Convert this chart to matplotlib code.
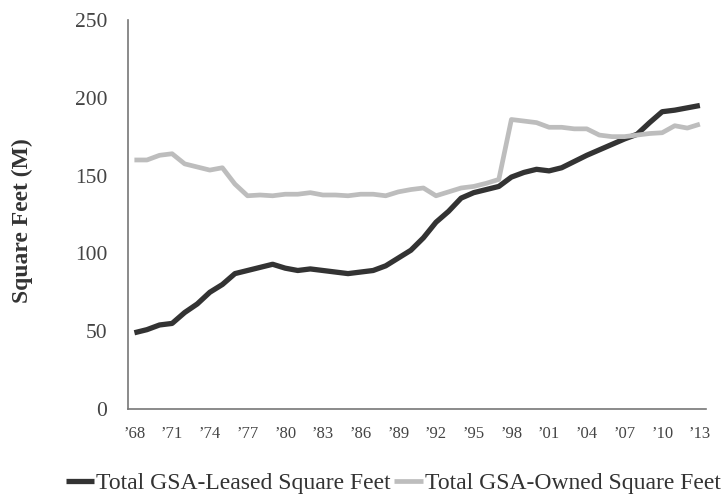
import matplotlib
matplotlib.use('Agg')
import matplotlib.pyplot as plt

plt.rcParams['font.family'] = ['Liberation Serif', 'DejaVu Serif']

years = list(range(1968, 2014))
leased = [49, 51, 54, 55, 62, 67.5, 75, 80, 87, 89,
          91, 93, 90.5, 89, 90, 89, 88, 87, 88, 89,
          92, 97, 102, 110, 120, 127, 135.5, 139, 141, 143,
          149, 152, 154, 153, 155, 159, 163, 166.5, 170, 173.5,
          176.5, 184, 191, 192, 193.5, 195]
owned = [160, 160, 163, 164, 157.5, 155.5, 153.5, 155, 144.5, 137,
         137.5, 137, 138, 138, 139, 137.5, 137.5, 137, 138, 138,
         137, 139.5, 141, 142, 137, 139.5, 142, 143, 145, 147.5,
         186, 185, 184, 181, 181, 180, 180, 176, 175, 175,
         176, 177, 177.5, 182, 180.5, 183]
tick_years = years[::3]
tick_labels = ["\u2019" + str(y)[2:] for y in tick_years]

fig = plt.figure(figsize=(7.28, 4.97), dpi=100)
ax = fig.add_axes([0.176, 0.177, 0.794, 0.783])

ax.plot(years, leased, color='#333333', linewidth=3.8, solid_capstyle='butt',
        label='Total GSA-Leased Square Feet')
ax.plot(years, owned, color='#bdbdbd', linewidth=3.4, solid_capstyle='butt',
        label='Total GSA-Owned Square Feet')

ax.set_xlim(1967.5, 2013.5)
ax.set_ylim(0, 250)
ax.set_yticks([0, 50, 100, 150, 200, 250])
ax.set_xticks(tick_years)
ax.set_xticklabels(tick_labels)
ax.tick_params(axis='y', length=0, labelsize=15.5, labelcolor='#444444', pad=15)
ax.tick_params(axis='x', length=0, labelsize=12, labelcolor='#444444', pad=12)
ax.set_ylabel('Square Feet (M)', fontsize=17, fontweight='bold', color='#333333')
ax.yaxis.set_label_coords(-0.165, 0.485)

for side in ['top', 'right']:
    ax.spines[side].set_visible(False)
for side in ['left', 'bottom']:
    ax.spines[side].set_color('#777777')
    ax.spines[side].set_linewidth(1.2)

fig.legend(loc='center left', bbox_to_anchor=(0.09, 0.028), ncol=2, frameon=False,
           fontsize=17, handlelength=1.2, handletextpad=0.1, columnspacing=0.15,
           labelcolor='#333333', borderpad=0, borderaxespad=0)

fig.savefig('out.png', dpi=100)
